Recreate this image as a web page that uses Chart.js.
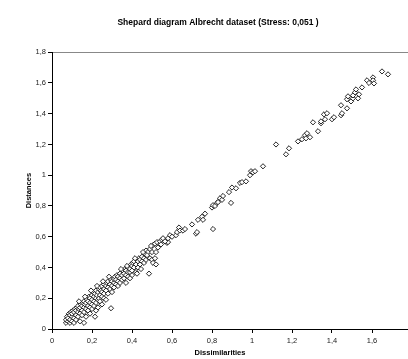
<!DOCTYPE html>
<html>
<head>
<meta charset="utf-8">
<script src="https://cdn.jsdelivr.net/npm/chart.js@4.4.1/dist/chart.umd.min.js"></script>
<style>
    html, body { margin: 0; padding: 0; background: #fff; overflow: hidden; }
    #wrap { width: 436px; height: 359px; }
</style>
</head>
<body>
<div id="wrap"><canvas id="shepardChart" width="436" height="359"></canvas></div>
<script>
// ====================================
// DATOS
// ====================================
const tituloGrafico = 'Shepard diagram Albrecht dataset (Stress: 0,051 )';
const tituloEjeX = 'Dissimilarities';
const tituloEjeY = 'Distances';

// [dissimilarity, distance]
const puntosShepard = [
    [0.07, 0.04], [0.07, 0.06], [0.075, 0.08], [0.08, 0.05], [0.08, 0.07], [0.085, 0.10],
    [0.09, 0.04], [0.09, 0.06], [0.09, 0.09], [0.095, 0.11], [0.10, 0.05], [0.10, 0.08],
    [0.10, 0.10], [0.105, 0.12], [0.11, 0.04], [0.11, 0.07], [0.11, 0.11], [0.115, 0.13],
    [0.12, 0.06], [0.12, 0.09], [0.12, 0.12], [0.125, 0.14], [0.13, 0.08], [0.13, 0.11],
    [0.13, 0.15], [0.135, 0.13], [0.14, 0.05], [0.14, 0.10], [0.14, 0.14], [0.145, 0.16],
    [0.15, 0.09], [0.15, 0.12], [0.15, 0.15], [0.155, 0.17], [0.16, 0.04], [0.16, 0.11],
    [0.16, 0.14], [0.16, 0.18], [0.165, 0.16], [0.17, 0.08], [0.17, 0.13], [0.17, 0.17],
    [0.175, 0.19], [0.18, 0.12], [0.18, 0.15], [0.18, 0.18], [0.185, 0.21], [0.19, 0.10],
    [0.19, 0.14], [0.19, 0.17], [0.19, 0.20], [0.20, 0.13], [0.20, 0.16], [0.20, 0.19],
    [0.20, 0.22], [0.205, 0.24], [0.21, 0.15], [0.21, 0.18], [0.21, 0.21], [0.215, 0.08],
    [0.215, 0.23], [0.22, 0.12], [0.22, 0.17], [0.22, 0.20], [0.22, 0.25], [0.225, 0.22],
    [0.23, 0.14], [0.23, 0.19], [0.23, 0.24], [0.235, 0.20], [0.235, 0.26], [0.24, 0.18],
    [0.24, 0.22], [0.24, 0.27], [0.245, 0.25], [0.25, 0.16], [0.25, 0.21], [0.25, 0.24],
    [0.25, 0.28], [0.26, 0.20], [0.26, 0.23], [0.26, 0.26], [0.26, 0.29], [0.27, 0.19],
    [0.27, 0.25], [0.27, 0.28], [0.275, 0.30], [0.28, 0.23], [0.28, 0.27], [0.28, 0.31],
    [0.29, 0.26], [0.29, 0.29], [0.295, 0.135], [0.295, 0.32], [0.30, 0.24], [0.30, 0.28],
    [0.30, 0.31], [0.31, 0.27], [0.31, 0.30], [0.31, 0.325], [0.315, 0.34], [0.32, 0.29],
    [0.32, 0.32], [0.325, 0.35], [0.33, 0.28], [0.33, 0.31], [0.33, 0.34], [0.34, 0.30],
    [0.34, 0.33], [0.34, 0.36], [0.35, 0.32], [0.35, 0.35], [0.355, 0.38], [0.36, 0.33],
    [0.36, 0.36], [0.365, 0.39], [0.37, 0.30], [0.37, 0.35], [0.37, 0.38], [0.38, 0.34],
    [0.38, 0.37], [0.38, 0.40], [0.39, 0.37], [0.39, 0.39], [0.395, 0.42], [0.40, 0.35],
    [0.40, 0.38], [0.40, 0.41], [0.405, 0.43], [0.41, 0.40], [0.41, 0.44], [0.42, 0.37],
    [0.42, 0.42], [0.425, 0.36], [0.43, 0.40], [0.43, 0.44], [0.435, 0.46], [0.44, 0.42],
    [0.44, 0.45], [0.45, 0.44], [0.45, 0.47], [0.46, 0.43], [0.46, 0.46], [0.465, 0.49],
    [0.47, 0.45], [0.47, 0.51], [0.48, 0.47], [0.48, 0.50], [0.485, 0.36], [0.49, 0.46],
    [0.49, 0.52], [0.50, 0.45], [0.50, 0.50], [0.505, 0.43], [0.505, 0.545], [0.515, 0.46],
    [0.515, 0.555], [0.52, 0.42], [0.52, 0.50], [0.525, 0.565], [0.54, 0.57], [0.55, 0.58],
    [0.575, 0.56], [0.58, 0.565], [0.58, 0.59], [0.59, 0.61], [0.60, 0.60], [0.62, 0.61],
    [0.625, 0.63], [0.635, 0.66], [0.64, 0.64], [0.655, 0.64], [0.665, 0.65], [0.70, 0.68],
    [0.72, 0.62], [0.725, 0.63], [0.73, 0.71], [0.75, 0.73], [0.755, 0.71], [0.765, 0.75],
    [0.80, 0.79], [0.805, 0.65], [0.805, 0.805], [0.815, 0.80], [0.825, 0.82], [0.83, 0.825],
    [0.84, 0.85], [0.85, 0.84], [0.855, 0.865], [0.885, 0.89], [0.895, 0.82], [0.90, 0.92],
    [0.92, 0.915], [0.94, 0.95], [0.95, 0.955], [0.97, 0.96], [0.99, 1.00], [0.995, 1.026],
    [1.005, 1.019], [1.015, 1.026], [1.055, 1.058], [1.12, 1.20], [1.17, 1.136], [1.185, 1.175],
    [1.23, 1.22], [1.25, 1.234], [1.265, 1.26], [1.27, 1.24], [1.275, 1.273], [1.29, 1.247],
    [1.305, 1.344], [1.33, 1.286], [1.345, 1.338], [1.345, 1.35], [1.36, 1.396], [1.365, 1.364],
    [1.375, 1.403], [1.40, 1.364], [1.41, 1.377], [1.445, 1.39], [1.45, 1.403], [1.445, 1.455],
    [1.475, 1.435], [1.475, 1.494], [1.48, 1.513], [1.495, 1.48], [1.505, 1.50], [1.505, 1.519],
    [1.515, 1.539], [1.52, 1.558], [1.53, 1.50], [1.535, 1.526], [1.55, 1.571], [1.575, 1.617],
    [1.585, 1.60], [1.605, 1.636], [1.605, 1.617], [1.61, 1.597], [1.65, 1.675], [1.68, 1.656],
    // puntos extra en la zona densa
    [0.345, 0.39], [0.375, 0.41], [0.39, 0.33], [0.415, 0.46], [0.445, 0.39], [0.455, 0.50],
    [0.475, 0.48], [0.495, 0.54], [0.53, 0.53], [0.545, 0.55], [0.555, 0.59], [0.565, 0.57],
    [0.285, 0.34], [0.255, 0.31], [0.225, 0.28], [0.195, 0.25], [0.165, 0.21], [0.135, 0.18]
];

// Rango de los ejes
const rangoX = [0, 1.8];
const rangoY = [0, 1.8];
const pasoTicks = 0.2;

// ====================================
// GRAFICO
// ====================================

// Formato con coma decimal
function formatoComa(valor) {
    return String(Math.round(valor * 10) / 10).replace('.', ',');
}

// Titulo del eje X (centrado como en el original, no sobre el area)
const tituloXPlugin = {
    id: 'tituloX',
    afterDraw(chart) {
        const ctx = chart.ctx;
        ctx.save();
        ctx.font = 'bold 7.5px "Liberation Sans", Arial, sans-serif';
        ctx.fillStyle = '#000';
        ctx.textAlign = 'center';
        ctx.textBaseline = 'middle';
        ctx.fillText(tituloEjeX, 220, 353);
        ctx.restore();
    }
};

function renderShepard() {
    const ctx = document.getElementById('shepardChart').getContext('2d');

    new Chart(ctx, {
        type: 'scatter',
        data: {
            datasets: [{
                data: puntosShepard.map(p => ({ x: p[0], y: p[1] })),
                pointStyle: 'rectRot',
                pointRadius: 2.6,
                pointHoverRadius: 2.6,
                borderWidth: 0.9,
                borderColor: '#111',
                backgroundColor: '#fff'
            }]
        },
        options: {
            responsive: false,
            animation: false,
            devicePixelRatio: 1,
            layout: { padding: { left: 24, right: 24, top: 0, bottom: 0 } },
            plugins: {
                legend: { display: false },
                tooltip: { enabled: false },
                title: {
                    display: true,
                    text: tituloGrafico,
                    color: '#000',
                    font: { family: '"Liberation Sans", Arial, sans-serif', size: 8.5, weight: 'bold' },
                    padding: { top: 18, bottom: 24 }
                }
            },
            scales: {
                x: {
                    type: 'linear',
                    min: rangoX[0],
                    max: rangoX[1],
                    afterFit: scale => { scale.height = 30; },
                    border: { color: '#000', width: 1 },
                    grid: { drawOnChartArea: false, tickLength: 4, tickColor: '#000' },
                    ticks: {
                        stepSize: pasoTicks,
                        padding: 3,
                        color: '#222',
                        maxRotation: 0,
                        font: { family: '"Liberation Sans", Arial, sans-serif', size: 7.5 },
                        // la etiqueta 1,8 queda cortada fuera de la imagen original
                        callback: v => (v >= rangoX[1] ? '' : formatoComa(v))
                    }
                },
                y: {
                    type: 'linear',
                    min: rangoY[0],
                    max: rangoY[1],
                    afterFit: scale => { scale.width = 28; },
                    border: { color: '#000', width: 1 },
                    grid: {
                        color: c => (c.tick && c.tick.value >= rangoY[1] ? '#888' : 'rgba(0,0,0,0)'),
                        tickLength: 4,
                        tickColor: '#000'
                    },
                    title: {
                        display: true,
                        text: tituloEjeY,
                        color: '#000',
                        font: { family: '"Liberation Sans", Arial, sans-serif', size: 7.5, weight: 'bold' },
                        padding: { top: 0, bottom: 0 }
                    },
                    ticks: {
                        stepSize: pasoTicks,
                        padding: 2,
                        color: '#222',
                        font: { family: '"Liberation Sans", Arial, sans-serif', size: 7.5 },
                        callback: formatoComa
                    }
                }
            }
        },
        plugins: [tituloXPlugin]
    });
}

renderShepard();
</script>
</body>
</html>
